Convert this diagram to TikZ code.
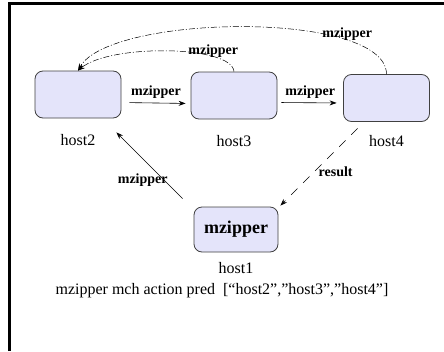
\documentclass[tikz,border=0pt]{standalone}
\usepackage{fontspec}
\setmainfont{Liberation Serif}
\usetikzlibrary{arrows.meta, positioning}
\definecolor{hostfill}{RGB}{228,228,250}
\tikzset{
  hostbox/.style={draw=black!75, fill=hostfill, rounded corners=8pt, line width=0.8pt,
    minimum width=86pt, minimum height=47pt, inner sep=0pt},
  hostname/.style={font=\fontsize{16}{18}\selectfont},
  msglabel/.style={font=\fontsize{14}{16}\selectfont\bfseries, inner sep=1pt},
  msg/.style={-{Stealth[length=7pt, width=5pt]}, line width=0.6pt},
  backmsg/.style={msg, dash pattern=on 6pt off 2pt on 1pt off 2pt, line width=0.5pt},
}

\begin{document}
\begin{tikzpicture}[x=1pt, y=-1pt]
				\useasboundingbox (0,0) rectangle (444,351);
				% frame
				\draw [line width=3pt] (9.5,351) -- (9.5,3.5) -- (444,3.5);
				
				% hosts
				\node [hostbox] (host2) at (78,94.5) {};
				\node [hostbox] (host3) at (234,95.5) {};
				\node [hostbox] (host4) at (386.5,98) {};
				\node [hostbox, minimum width=84pt, minimum height=45pt,
				font=\fontsize{18}{20}\selectfont\bfseries] (host1) at (236,229.5) {mzipper};
				
				\node [hostname] (host2name) at (78,140) {host2};
				\node [hostname] (host3name) at (234,141) {host3};
				\node [hostname] (host4name) at (386.5,141) {host4};
				\node [hostname] (host1name) at (236,268) {host1};
				\node [hostname] (action) at (222,291)
				{mzipper mch action pred~ [“host2”,”host3”,”host4”]};
				
				% chain
				\draw [msg, shorten <=8pt, shorten >=5pt] ([yshift=-8pt]host2.east) -- ([yshift=-8pt]host3.west)
				node [msglabel, midway, above=3pt] {mzipper};
				\draw [msg, shorten <=4pt, shorten >=6.5pt] ([yshift=-7pt]host3.east) -- ([yshift=-5pt]host4.west)
				node [msglabel, midway, above=3pt] {mzipper};
				
				% back to host2
				\draw [backmsg] (host3.north) .. controls (232,45) and (110,44) .. (host2.north)
				node [msglabel, pos=0.25, yshift=5pt] {mzipper};
				\draw [backmsg] (host4.north) .. controls (386,10) and (110,14) .. (host2.north)
				node [msglabel, pos=0.235, yshift=6pt] {mzipper};
				
				% host1
				\draw [msg] ([shift={(-11,-8)}]host1.north west) -- ([shift={(-5,14)}]host2.south east)
				node [msglabel, pos=0.3, xshift=-20pt, yshift=-1pt] {mzipper};
				\draw [msg, dash pattern=on 9pt off 8pt] ([shift={(14.5,6.5)}]host4.south west) -- ([shift={(2,-1)}]host1.north east)
				node [msglabel, pos=0.56, right=3pt] {result};
				
			\end{tikzpicture}
\end{document}
